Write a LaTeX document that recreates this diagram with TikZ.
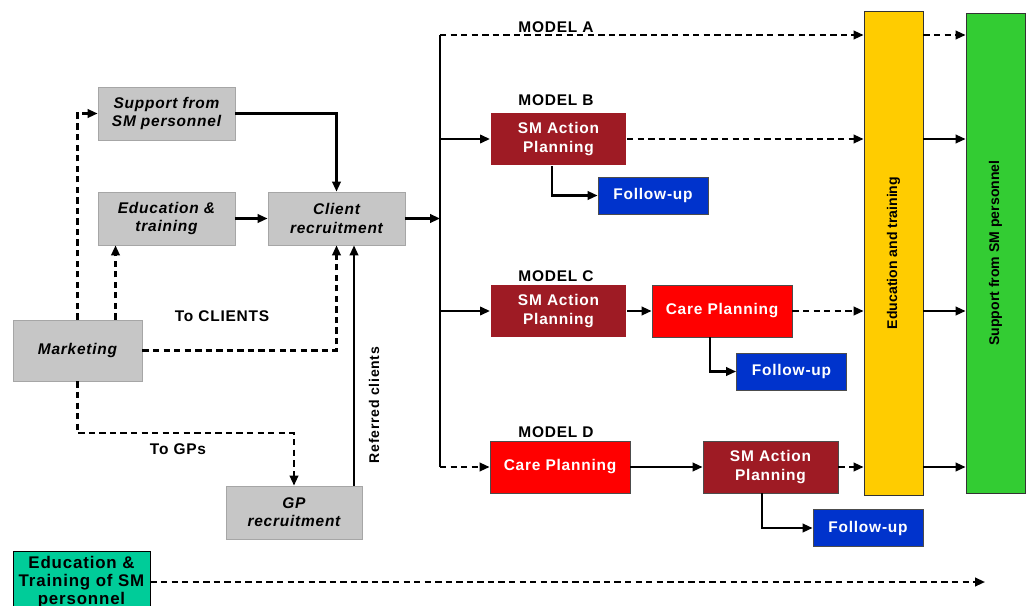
\documentclass[tikz,border=0pt]{standalone}
\usepackage{fontspec}
\setmainfont{Liberation Sans}
\newfontfamily\boxfont{Liberation Sans}[LetterSpace=5]
\usetikzlibrary{arrows.meta}

\definecolor{smred}{HTML}{9E1B24}
\definecolor{carered}{HTML}{FF0000}
\definecolor{fublue}{HTML}{0033CC}
\definecolor{edyellow}{HTML}{FFCC00}
\definecolor{supgreen}{HTML}{33CC33}
\definecolor{edteal}{HTML}{00CC99}

\begin{document}
\begin{tikzpicture}[x=0.025cm, y=-0.025cm, line width=1.5pt, >={Triangle[length=7pt,width=6pt]}]
    \tikzstyle{every node} = [rectangle, align=center, font=\boxfont\fontsize{11}{13}\selectfont\bfseries]
    \tikzstyle{grey} = [draw=gray!70, fill=gray!45, line width=0.6pt, font=\boxfont\fontsize{11}{13}\selectfont\bfseries\itshape, minimum width=3.425cm, minimum height=1.325cm]
    \tikzstyle{smbox} = [fill=smred, text=white, minimum width=3.375cm, minimum height=1.3cm]
    \tikzstyle{carebox} = [draw=gray!60!black, line width=0.6pt, fill=carered, text=white, minimum width=3.5cm, minimum height=1.3cm]
    \tikzstyle{fubox} = [draw=gray!60!black, line width=0.6pt, fill=fublue, text=white, minimum width=2.75cm, minimum height=0.925cm]
    \tikzstyle{bar} = [draw=gray!40!black, line width=0.6pt, minimum width=1.475cm, font=\fontsize{10}{12}\selectfont\bfseries]
    \tikzstyle{dashline} = [dash pattern=on 4.5pt off 3pt]

    \useasboundingbox (0,0) rectangle (1030,605);

    \node[grey] (sup) at (166.5,113.5) {Support from\\SM personnel};
    \node[grey] (edu) at (166.5,218.5) {Education \&\\training};
    \node[grey] (cli) at (336.5,218.5) {Client\\recruitment};
    \node[grey, minimum width=3.225cm, minimum height=1.525cm] (mkt) at (77.5,350.5) {Marketing};
    \node[grey, minimum width=3.4cm] (gp) at (294,512.5) {GP\\recruitment};
    \node[draw=black, line width=0.6pt, fill=edteal, minimum width=3.425cm, minimum height=1.45cm, font=\boxfont\fontsize{12}{12.8}\selectfont\bfseries] (edsm) at (81.5,582) {Education \&\\Training of SM\\personnel};

    \node (toc) at (222,316) {To CLIENTS};
    \node (tog) at (178,449) {To GPs};
    \node[rotate=90, font=\boxfont\fontsize{10}{12}\selectfont\bfseries] (ref) at (374,405) {Referred clients};

    \node (ma) at (556,27) {MODEL A};
    \node (mb) at (556,100) {MODEL B};
    \node (mc) at (556,276) {MODEL C};
    \node (md) at (556,432) {MODEL D};

    \node[smbox] (sab) at (558.5,139) {SM Action\\Planning};
    \node[fubox] (fub) at (653,195.5) {Follow-up};

    \node[smbox] (sac) at (558.5,311) {SM Action\\Planning};
    \node[carebox] (cpc) at (722,311) {Care Planning};
    \node[fubox] (fuc) at (791.5,371.5) {Follow-up};

    \node[carebox] (cpd) at (560,467) {Care Planning};
    \node[smbox, draw=gray!60!black, line width=0.6pt] (sad) at (770.5,467) {SM Action\\Planning};
    \node[fubox] (fud) at (868,528) {Follow-up};

    \node[bar, fill=edyellow, minimum height=12.1cm] (yel) at (893.5,253) {\rotatebox{90}{Education and training}};
    \node[bar, fill=supgreen, minimum height=12cm] (grn) at (995.5,253) {\rotatebox{90}{Support from SM personnel}};

    \coordinate (bustop) at (440,35);
    \coordinate (busbot) at (440,467);
    \coordinate (endline) at (985,582);

    \draw [dashline,->] (mkt.north) |- (sup.west);
    \draw [dashline,->] ([xshift=0.95cm]mkt.north) -- ([xshift=0.95cm]mkt.north |- edu.south);
    \draw [dashline,->] (mkt.east) -| (cli.south);
    \draw [dashline,->] (mkt.south) -- ++(0,52) -| (gp.north);

    \draw [->] (sup.east) -| (cli.north);
    \draw [->] (edu.east) -- (cli.west);
    \draw [->] ([xshift=1.5cm]gp.north) -- ([xshift=1.5cm]gp.north |- cli.south);

    \draw [->] (cli.east) -- (cli.east -| bustop);
    \draw [-] (bustop) -- (busbot);

    \draw [dashline,->] (bustop) -- (bustop -| yel.west);

    \draw [->] (sab.west -| bustop) -- (sab.west);
    \draw [dashline,->] (sab.east) -- (sab.east -| yel.west);
    \draw [->] ([xshift=-0.16cm]sab.south) |- (fub.west);

    \draw [->] (sac.west -| bustop) -- (sac.west);
    \draw [->] (sac.east) -- (cpc.west);
    \draw [dashline,->] (cpc.east) -- (cpc.east -| yel.west);
    \draw [->] ([xshift=-0.3cm]cpc.south) |- (fuc.west);

    \draw [dashline,->] (busbot) -- (cpd.west);
    \draw [->] (cpd.east) -- (sad.west);
    \draw [dashline,->] (sad.east) -- (sad.east -| yel.west);
    \draw [->] ([xshift=-0.21cm]sad.south) |- (fud.west);

    \draw [dashline,->] (bustop -| yel.east) -- (bustop -| grn.west);
    \draw [->] (sab.east -| yel.east) -- (sab.east -| grn.west);
    \draw [->] (cpc.east -| yel.east) -- (cpc.east -| grn.west);
    \draw [->] (sad.east -| yel.east) -- (sad.east -| grn.west);

    \draw [dashline,->] (edsm.east) -- (endline);
\end{tikzpicture}
\end{document}
